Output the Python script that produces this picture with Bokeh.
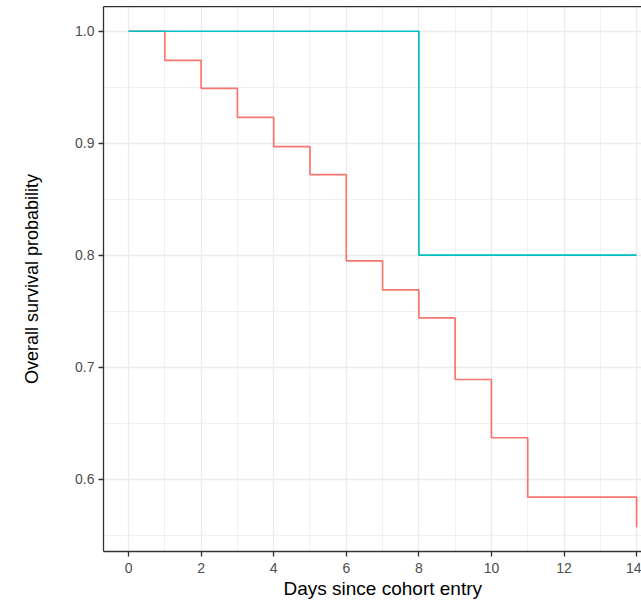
from bokeh.plotting import figure
from bokeh.models import Range1d, FixedTicker, PrintfTickFormatter, Title, LinearAxis
from bokeh.embed import file_html
from bokeh.resources import INLINE

# Data
red_days = [0, 1, 2, 3, 4, 5, 6, 7, 8, 9, 10, 11, 14]
red_surv = [1.0, 0.974, 0.949, 0.923, 0.897, 0.872, 0.795, 0.769, 0.744, 0.689, 0.637, 0.584, 0.557]
teal_days = [0, 8, 14]
teal_surv = [1.0, 0.8, 0.8]
x_ticks = [0, 2, 4, 6, 8, 10, 12, 14]
x_minor = [1, 3, 5, 7, 9, 11, 13]
y_ticks = [0.6, 0.7, 0.8, 0.9, 1.0]
y_minor = [0.55, 0.65, 0.75, 0.85, 0.95]

FONT = "Liberation Sans"
Y0, Y1 = 0.5354, 1.0221

p = figure(width=633, height=596, output_backend="svg", toolbar_location=None,
           x_range=Range1d(-0.69, 14.135), y_range=Range1d(Y0, Y1),
           min_border_left=95, min_border_right=0, min_border_top=0, min_border_bottom=51)
p.styles = {"position": "absolute", "left": "8px", "top": "6px"}
p.background_fill_color = "white"
p.border_fill_color = "white"
p.outline_line_color = None

p.step(red_days, red_surv, mode="after", line_color="#F8766D", line_width=1.7)
p.step(teal_days, teal_surv, mode="after", line_color="#00BFC4", line_width=1.7)

p.xaxis.ticker = FixedTicker(ticks=x_ticks, minor_ticks=x_minor)
p.yaxis.ticker = FixedTicker(ticks=y_ticks, minor_ticks=y_minor)
p.yaxis.formatter = PrintfTickFormatter(format="%.1f")

for g in (p.xgrid[0], p.ygrid[0]):
    g.grid_line_color = "#EBEBEB"
    g.grid_line_width = 1.3
    g.minor_grid_line_color = "#EBEBEB"
    g.minor_grid_line_width = 0.7

for ax in (p.xaxis[0], p.yaxis[0]):
    ax.axis_line_color = "#333333"
    ax.axis_line_width = 1.3
    ax.major_tick_line_color = "#333333"
    ax.major_tick_line_width = 1.3
    ax.major_tick_out = 5
    ax.major_tick_in = 0
    ax.minor_tick_line_color = None
    ax.major_label_text_font = FONT
    ax.major_label_text_font_size = "14px"
    ax.major_label_text_color = "#4D4D4D"
    ax.axis_label_text_font = FONT
    ax.axis_label_text_font_size = "18px"
    ax.axis_label_text_font_style = "normal"
    ax.axis_label_text_color = "black"

p.yaxis.axis_label = "Overall survival probability"
p.xaxis.major_label_standoff = 6
p.yaxis.major_label_standoff = 4
p.yaxis.axis_label_standoff = 30

# top panel border (ggplot theme_bw), drawn as a bare axis line
top_axis = LinearAxis(ticker=FixedTicker(ticks=[]), axis_line_color="#333333",
                      axis_line_width=1.3, major_tick_line_color=None,
                      minor_tick_line_color=None, major_label_text_font_size="0px",
                      major_label_standoff=0, major_tick_out=0, major_tick_in=0)
p.add_layout(top_axis, "above")

xt = Title(text="Days since cohort entry", align="left", offset=180,
           text_font=FONT, text_font_size="19px", text_font_style="normal",
           text_color="black", standoff=0)
p.add_layout(xt, "below")

open("out.html", "w").write(file_html(p, INLINE))
